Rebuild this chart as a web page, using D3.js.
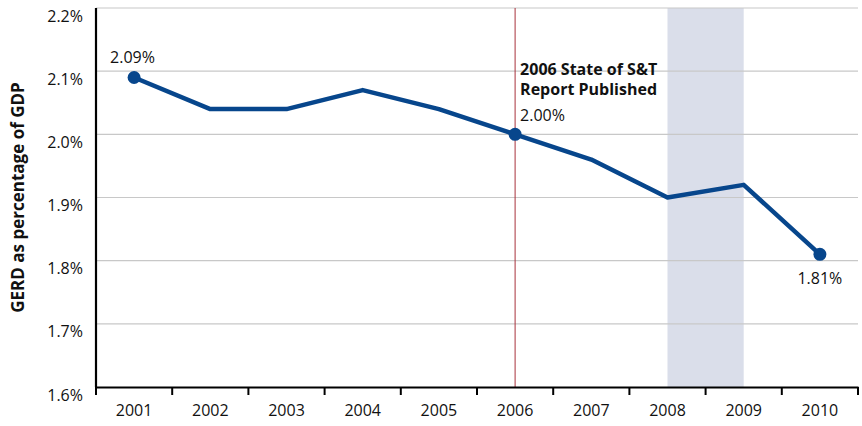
<!DOCTYPE html>
<html>
<head>
<meta charset="utf-8">
<script src="https://cdn.jsdelivr.net/npm/d3@7"></script>
<style>
  body { margin: 0; background: #fff; }
  text { font-family: "Open Sans", "DejaVu Sans", sans-serif; fill: #111; }
</style>
</head>
<body>
<svg id="chart"></svg>
<script>
const years = ["2001", "2002", "2003", "2004", "2005", "2006", "2007", "2008", "2009", "2010"];
const gerd = [2.09, 2.04, 2.04, 2.07, 2.04, 2.00, 1.96, 1.90, 1.92, 1.81];
const yTicks = [1.6, 1.7, 1.8, 1.9, 2.0, 2.1, 2.2];
const labelled = ["2001", "2006", "2010"];
const shadeYears = ["2008", "2009"];
const reportYear = "2006";

const width = 862, height = 426;
const margin = {top: 8, right: 4, bottom: 39, left: 96};

let svg = d3.select("svg#chart")
  .attr("width", width)
  .attr("height", height);

const x = d3.scaleBand().domain(years).range([margin.left, width - margin.right]);
const y = d3.scaleLinear().domain([1.6, 2.2]).range([height - margin.bottom, margin.top]);
const cx = d => x(d) + x.bandwidth() / 2;

// shaded period
svg.append("rect")
  .attr("x", cx(shadeYears[0]))
  .attr("width", cx(shadeYears[1]) - cx(shadeYears[0]))
  .attr("y", y(2.2))
  .attr("height", y(1.6) - y(2.2))
  .attr("fill", "#dadeea");

// gridlines
svg.append("g")
  .selectAll("line").data(yTicks.slice(1)).join("line")
  .attr("x1", margin.left).attr("x2", width - margin.right)
  .attr("y1", d => y(d)).attr("y2", d => y(d))
  .attr("stroke", "#c8c8c8").attr("stroke-width", 1.2);

// y tick labels (sit a little below their gridline, as in the original)
svg.append("g")
  .selectAll("text").data(yTicks).join("text")
  .attr("x", margin.left - 13).attr("y", d => y(d) + 8)
  .attr("dy", "0.35em").attr("text-anchor", "end")
  .style("font-size", "16px")
  .text(d => d.toFixed(1) + "%");

// report line
svg.append("line")
  .attr("x1", cx(reportYear)).attr("x2", cx(reportYear))
  .attr("y1", y(2.2)).attr("y2", y(1.6))
  .attr("stroke", "#a8323c").attr("stroke-width", 1);

// axes
const xAxis = svg.append("g")
  .attr("transform", `translate(0,${y(1.6)})`)
  .call(d3.axisBottom(x).tickSize(0).tickPadding(18));
xAxis.select(".domain").attr("stroke", "#000").attr("stroke-width", 2.2);
xAxis.selectAll("text").style("font-size", "16px").attr("fill", "#111");

svg.append("g")
  .selectAll("line").data(d3.range(years.length + 1)).join("line")
  .attr("x1", i => margin.left + i * x.step()).attr("x2", i => margin.left + i * x.step())
  .attr("y1", y(1.6)).attr("y2", y(1.6) + 8)
  .attr("stroke", "#000").attr("stroke-width", 2);

svg.append("line")
  .attr("x1", margin.left).attr("x2", margin.left)
  .attr("y1", y(2.2)).attr("y2", y(1.6))
  .attr("stroke", "#000").attr("stroke-width", 2.2);

// series line
const line = d3.line().x((d, i) => cx(years[i])).y(d => y(d));
svg.append("path")
  .datum(gerd)
  .attr("d", line)
  .attr("fill", "none")
  .attr("stroke", "#07468c")
  .attr("stroke-width", 4.5)
  .attr("stroke-linejoin", "round");

const points = years.map((yr, i) => ({year: yr, value: gerd[i]})).filter(d => labelled.includes(d.year));
svg.selectAll(".dot").data(points).join("circle")
  .attr("class", "dot")
  .attr("cx", d => cx(d.year)).attr("cy", d => y(d.value))
  .attr("r", 6.5).attr("fill", "#07468c");

// value labels
const fmt = d => d.value.toFixed(2) + "%";
const first = points[0], mid = points[1], last = points[2];
svg.append("text")
  .attr("x", cx(first.year) - 24).attr("y", y(first.value) - 14)
  .style("font-size", "16px").text(fmt(first));
svg.append("text")
  .attr("x", cx(mid.year) + 5).attr("y", y(mid.value) - 13)
  .style("font-size", "16px").text(fmt(mid));
svg.append("text")
  .attr("x", cx(last.year)).attr("y", y(last.value) + 30)
  .attr("text-anchor", "middle")
  .style("font-size", "16px").text(fmt(last));

// annotation
const note = svg.append("text")
  .attr("x", cx(reportYear) + 5).attr("y", 75)
  .style("font-size", "16px").style("font-weight", "bold");
note.append("tspan").text("2006 State of S&T");
note.append("tspan").attr("x", cx(reportYear) + 5).attr("dy", 20).text("Report Published");

// y axis title
svg.append("text")
  .attr("transform", `translate(24,${(y(1.6) + y(2.2)) / 2}) rotate(-90)`)
  .attr("text-anchor", "middle")
  .style("font-size", "17px").style("font-weight", "bold")
  .text("GERD as percentage of GDP");
</script>
</body>
</html>
